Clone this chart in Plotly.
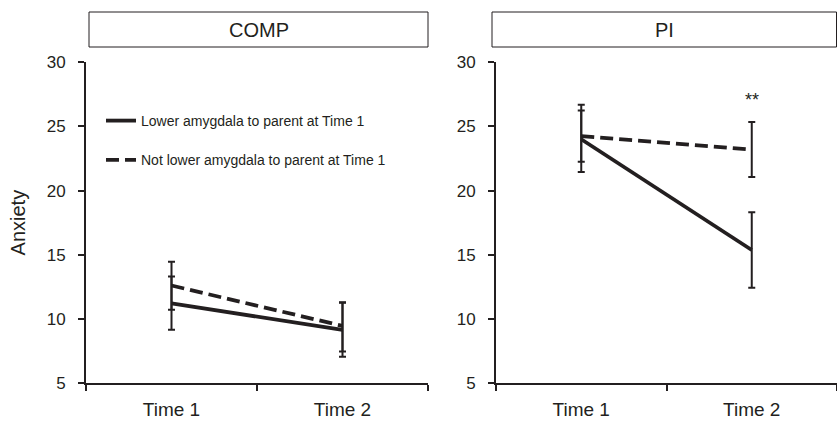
import plotly.graph_objects as go

# ---- data ----
categories = ["Time 1", "Time 2"]
panel_titles = ["COMP", "PI"]
series_names = ["Lower amygdala to parent at Time 1", "Not lower amygdala to parent at Time 1"]

comp_lower = [11.2, 9.15]
comp_lower_plus = [2.1, 2.1]
comp_lower_minus = [2.05, 2.1]

comp_not = [12.6, 9.45]
comp_not_plus = [1.85, 1.85]
comp_not_minus = [1.89, 2.0]

pi_lower = [24.0, 15.37]
pi_lower_plus = [2.25, 2.94]
pi_lower_minus = [2.55, 2.94]

pi_not = [24.25, 23.2]
pi_not_plus = [2.45, 2.15]
pi_not_minus = [2.0, 2.15]

y_ticks = [5, 10, 15, 20, 25, 30]
sig_label = "**"
sig_y = 27.1

INK = "#231f20"
FONT = "Liberation Sans, Arial, sans-serif"

fig = go.Figure()

def add_series(xa, ya, y, plus, minus, name, dash, showlegend, group):
    fig.add_trace(go.Scatter(
        x=categories, y=y, xaxis=xa, yaxis=ya, mode="lines", name=name,
        legendgroup=group, showlegend=showlegend,
        line=dict(color=INK, width=3.8, dash=dash),
        error_y=dict(type="data", symmetric=False, array=plus, arrayminus=minus,
                     color=INK, thickness=2, width=3.5),
    ))

dash_pat = "13px,6px"
add_series("x", "y", comp_lower, comp_lower_plus, comp_lower_minus, series_names[0], "solid", True, "g1")
add_series("x", "y", comp_not, comp_not_plus, comp_not_minus, series_names[1], dash_pat, True, "g2")
add_series("x2", "y2", pi_lower, pi_lower_plus, pi_lower_minus, series_names[0], "solid", False, "g1")
add_series("x2", "y2", pi_not, pi_not_plus, pi_not_minus, series_names[1], dash_pat, False, "g2")

W, H = 837, 421
ydom = [1 - 383 / H, 1 - 62.3 / H]
xdom1 = [86 / W, 428 / W]
xdom2 = [496 / W, 1.0]

xcommon = dict(type="category", categoryorder="array", categoryarray=categories,
               range=[-0.5, 1.5], tickson="boundaries", ticks="outside", ticklen=6,
               tickwidth=2, tickcolor=INK, showline=True, linewidth=2, linecolor=INK,
               showgrid=False, zeroline=False, tickfont=dict(family=FONT, size=19, color=INK),
               ticklabelstandoff=8, fixedrange=True, automargin=False)
ycommon = dict(range=[5, 30], tickvals=y_ticks, ticks="outside", ticklen=6, tickwidth=2,
               tickcolor=INK, showline=True, linewidth=2, linecolor=INK, showgrid=False,
               zeroline=False, tickfont=dict(family=FONT, size=17, color=INK),
               ticklabelstandoff=9, fixedrange=True, automargin=False)

fig.update_layout(
    width=W, height=H, margin=dict(l=0, r=0, t=0, b=0, autoexpand=False),
    paper_bgcolor="white", plot_bgcolor="white",
    font=dict(family=FONT, color=INK),
    xaxis=dict(domain=xdom1, anchor="y", **xcommon),
    yaxis=dict(domain=ydom, anchor="x", title=dict(text="Anxiety", font=dict(size=20, family=FONT, color=INK), standoff=16), **ycommon),
    xaxis2=dict(domain=xdom2, anchor="y2", **xcommon),
    yaxis2=dict(domain=ydom, anchor="x2", **ycommon),
    legend=dict(x=101 / W, y=1 - 105 / H, xanchor="left", yanchor="top",
                bgcolor="rgba(0,0,0,0)", font=dict(family=FONT, size=14, color=INK),
                tracegroupgap=18, itemwidth=30),
    showlegend=True,
)

# strip headers
boxes = [(89 / W, 428 / W), (492 / W, 836.5 / W)]
for (x0, x1), title in zip(boxes, panel_titles):
    fig.add_shape(type="rect", xref="paper", yref="paper", x0=x0, x1=x1,
                  y0=1 - 47 / H, y1=1 - 12 / H, line=dict(color=INK, width=1), fillcolor="white")
    fig.add_annotation(xref="paper", yref="paper", x=(x0 + x1) / 2, y=1 - 29.5 / H,
                       text=title, showarrow=False, xanchor="center", yanchor="middle",
                       font=dict(family=FONT, size=20, color=INK))

fig.add_annotation(xref="x2", yref="y2", x=categories[1], y=sig_y, text=sig_label,
                   showarrow=False, xanchor="center", yanchor="middle",
                   font=dict(family=FONT, size=18, color=INK))

fig.write_html("out.html", config={"displayModeBar": False},
               post_script="document.body.style.margin='0';document.body.style.overflow='hidden';")
